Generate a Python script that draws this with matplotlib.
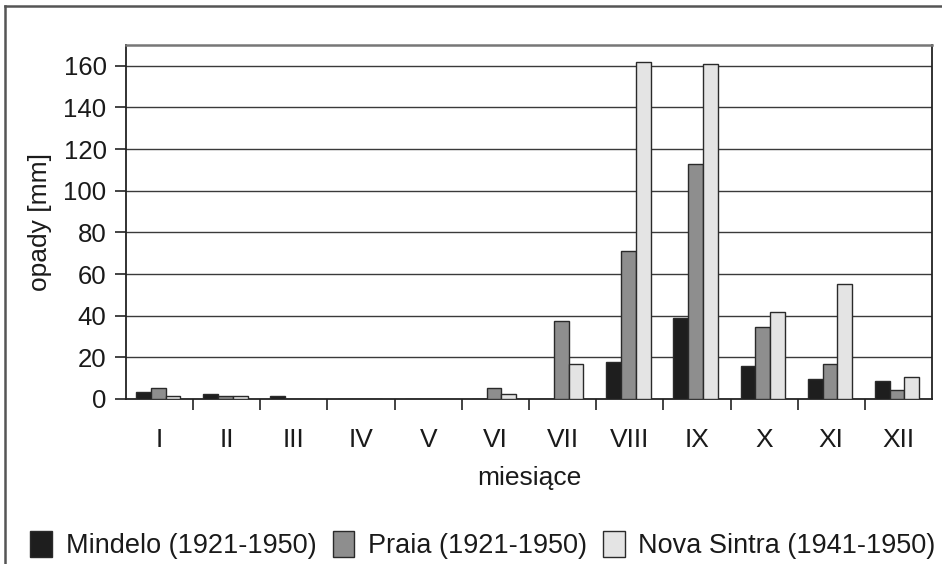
import numpy as np
import matplotlib.pyplot as plt
from matplotlib.lines import Line2D

plt.rcParams['font.family'] = ['Liberation Sans', 'DejaVu Sans']

# monthly precipitation [mm]
months = ['I', 'II', 'III', 'IV', 'V', 'VI', 'VII', 'VIII', 'IX', 'X', 'XI', 'XII']
mindelo = [3.5, 2.5, 1.5, 0, 0, 0, 0, 18, 39, 16, 9.5, 8.5]
praia = [5.5, 1.5, 0, 0, 0, 5.5, 37.5, 71, 113, 34.5, 17, 4.5]
nova_sintra = [1.5, 1.5, 0, 0, 0, 2.5, 17, 162, 161, 42, 55, 10.5]
labels = ['Mindelo (1921-1950)', 'Praia (1921-1950)', 'Nova Sintra (1941-1950)']

W, H = 942, 564
fig = plt.figure(figsize=(W / 100, H / 100), dpi=100)
ax = fig.add_axes([126 / W, 1 - 399 / H, (932 - 126) / W, (399 - 45) / H])

x = np.arange(len(months))
bw = 0.22
colors = ['#1e1e1e', '#8e8e8e', '#e4e4e4']
series = [mindelo, praia, nova_sintra]
for i, (vals, c, lab) in enumerate(zip(series, colors, labels)):
    ax.bar(x + (i - 1) * bw - 0.02, vals, bw, color=c, edgecolor='#2a2a2a',
           linewidth=1.0, label=lab, zorder=3)

ax.set_xlim(-0.5, 11.5)
ax.set_ylim(0, 170)
ax.set_yticks(np.arange(0, 161, 20))
for v in range(20, 161, 20):
    ax.axhline(v, color='#3a3a3a', linewidth=1.0, zorder=1)

ax.set_xticks(x)
ax.set_xticklabels(months)
ax.set_xticks(np.arange(0.5, 11.5, 1), minor=True)
ax.tick_params(axis='x', which='major', length=0, pad=21, labelsize=19, labelcolor='#1a1a1a')
ax.tick_params(axis='x', which='minor', length=8, width=1.2, direction='out', color='#222222')
ax.tick_params(axis='y', length=8, width=1.2, direction='out', labelsize=18.5, color='#222222',
               labelcolor='#1a1a1a', pad=6)

for s in ['left', 'bottom', 'right']:
    ax.spines[s].set_color('#222222')
    ax.spines[s].set_linewidth(1.3)
ax.spines['top'].set_color('#777777')
ax.spines['top'].set_linewidth(1.8)

ax.set_xlabel('miesiące', fontsize=19, color='#1a1a1a', labelpad=10)
ax.set_ylabel('opady [mm]', fontsize=19, color='#1a1a1a', labelpad=8)

fig.legend(loc='center', bbox_to_anchor=(483 / W, 1 - 545 / H), ncol=3, frameon=False,
           fontsize=19.5, handlelength=0.8, handleheight=1.1, handletextpad=0.5,
           columnspacing=0.6, labelcolor='#1a1a1a')

# figure frame (top and left edges)
fig.add_artist(Line2D([5 / W, 5 / W], [0, 1 - 6 / H], transform=fig.transFigure,
                      color='#555555', linewidth=1.8))
fig.add_artist(Line2D([5 / W, 1], [1 - 6 / H, 1 - 6 / H], transform=fig.transFigure,
                      color='#555555', linewidth=1.8))

fig.savefig('out.png', dpi=100)
